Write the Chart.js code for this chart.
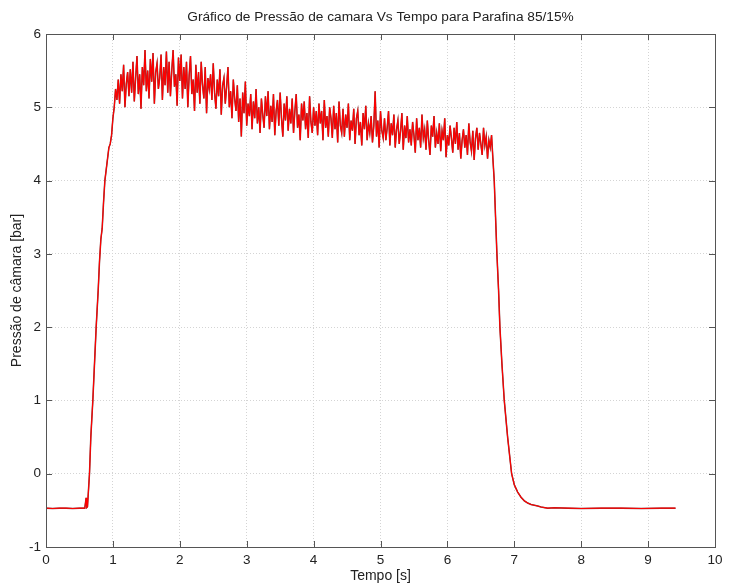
<!DOCTYPE html>
<html><head><meta charset="utf-8">
<script src="https://cdn.jsdelivr.net/npm/chart.js@4"></script>
<style>html,body{margin:0;padding:0;background:#fff}#wrap{width:729px;height:585px}</style>
</head><body><div id="wrap"><canvas id="c" width="729" height="585"></canvas></div>
<script>
const titleText = "Gráfico de Pressão de camara Vs Tempo para Parafina 85/15%";
const xTitle = "Tempo [s]";
const yTitle = "Pressão de câmara [bar]";
const xTicks = [0,1,2,3,4,5,6,7,8,9,10];
const yTicks = [-1,0,1,2,3,4,5,6];

// ignition / rise segment
const riseTime = [0,0.1,0.2,0.3,0.4,0.5,0.58,0.60,0.61,0.62,0.65,0.67,0.70,0.72,0.75,0.78,0.80,0.82,0.84,0.86,0.88,0.90,0.92,0.94,0.96,0.98,1.00,1.02,1.04];
const risePressure = [-0.47,-0.475,-0.47,-0.47,-0.475,-0.47,-0.47,-0.33,-0.46,-0.45,0.0,0.5,1.0,1.4,2.0,2.5,2.9,3.2,3.35,3.7,4.0,4.15,4.3,4.45,4.5,4.62,4.85,5.0,5.25];

// burning plateau, sampled every 0.02 s from 1.06 s
const plateauStart = 1.06, plateauStep = 0.02;
const plateauPressure = [
5.10,5.38,5.05,5.45,5.22,5.58,5.00,5.32,5.48,5.15,
5.52,5.20,5.62,5.08,5.40,5.70,5.18,5.45,4.98,5.55,
5.30,5.78,5.22,5.50,5.12,5.66,5.35,5.74,5.05,5.48,
5.60,5.25,5.40,5.72,5.10,5.55,5.30,5.76,5.20,5.62,
5.15,5.50,5.78,5.28,5.45,5.02,5.68,5.36,5.72,5.12,
5.55,5.25,5.62,5.00,5.44,5.70,5.18,5.38,4.95,5.58,
5.20,5.48,5.05,5.62,5.30,5.12,5.55,4.92,5.40,5.25,
5.45,5.10,5.60,5.20,4.98,5.38,5.15,5.52,4.90,5.30,
5.40,5.05,5.28,5.55,5.00,5.22,4.85,5.38,5.12,4.95,
5.30,4.80,5.12,4.60,5.20,4.92,5.35,4.75,5.05,4.88,
5.18,4.70,5.08,4.85,5.25,4.78,5.00,4.65,5.12,4.90,
4.72,5.15,4.88,5.22,4.70,5.02,4.80,5.18,4.62,4.95,
5.10,4.75,5.20,4.85,4.60,5.05,4.82,5.15,4.68,4.98,
4.78,5.12,4.65,4.95,5.18,4.72,4.90,4.55,5.05,4.82,
5.08,4.70,4.92,4.58,5.15,4.80,4.65,5.00,4.75,4.95,
4.62,5.05,4.78,4.95,4.55,5.10,4.72,4.88,4.60,5.00,
4.85,4.58,5.02,4.70,4.92,4.52,5.08,4.75,4.65,4.98,
4.60,4.90,4.72,5.05,4.55,4.82,4.68,4.98,4.50,4.85,
4.95,4.62,4.80,4.48,4.92,4.70,5.02,4.55,4.78,4.65,
4.88,4.52,4.75,5.22,4.60,4.82,4.45,4.95,4.68,4.58,
4.85,4.55,4.72,4.95,4.48,4.78,4.62,4.90,4.45,4.70,
4.82,4.50,4.68,4.92,4.42,4.75,4.58,4.88,4.52,4.70,
4.48,4.80,4.62,4.38,4.85,4.55,4.72,4.45,4.90,4.58,
4.70,4.42,4.82,4.55,4.35,4.75,4.60,4.88,4.45,4.65,
4.50,4.78,4.40,4.68,4.55,4.85,4.32,4.62,4.48,4.75,
4.58,4.38,4.72,4.50,4.80,4.42,4.65,4.30,4.55,4.70,
4.45,4.62,4.35,4.78,4.52,4.40,4.68,4.28,4.58,4.72,
4.42,4.65,4.50,4.35,4.72,4.48,4.60,4.30,4.55,4.45,
4.62];

// tail-off segment
const fallTime = [6.68,6.70,6.72,6.74,6.765,6.785,6.815,6.85,6.90,6.96,7.00,7.05,7.10,7.15,7.20,7.25,7.30,7.35,7.40,7.50,7.60,7.80,8.00,8.30,8.60,8.90,9.20,9.41];
const fallPressure = [4.30,4.00,3.50,3.00,2.50,2.00,1.50,1.00,0.50,0.00,-0.15,-0.25,-0.32,-0.37,-0.40,-0.42,-0.43,-0.44,-0.455,-0.47,-0.465,-0.47,-0.475,-0.47,-0.47,-0.475,-0.47,-0.47];

const points = [];
riseTime.forEach((t,i)=>points.push({x:t,y:risePressure[i]}));
plateauPressure.forEach((p,i)=>points.push({x:+(plateauStart+i*plateauStep).toFixed(3),y:p}));
fallTime.forEach((t,i)=>points.push({x:t,y:fallPressure[i]}));

const FONT = "'Liberation Sans', Arial, Helvetica, sans-serif";

const boxPlugin = {
  id:'box',
  afterDraw(chart){
    const {ctx, chartArea:a, scales:{x,y}} = chart;
    ctx.save();
    ctx.strokeStyle = '#555';
    ctx.lineWidth = 1;
    ctx.strokeRect(Math.round(a.left)+0.5, Math.round(a.top)+0.5, Math.round(a.right-a.left), Math.round(a.bottom-a.top));
    ctx.beginPath();
    x.ticks.forEach(t=>{
      const px = Math.round(x.getPixelForValue(t.value))+0.5;
      ctx.moveTo(px,a.bottom); ctx.lineTo(px,a.bottom-6);
      ctx.moveTo(px,a.top); ctx.lineTo(px,a.top+6);
    });
    y.ticks.forEach(t=>{
      const py = Math.round(y.getPixelForValue(t.value))+0.5;
      ctx.moveTo(a.left,py); ctx.lineTo(a.left+6,py);
      ctx.moveTo(a.right,py); ctx.lineTo(a.right-6,py);
    });
    ctx.stroke();
    // title centred over the plot area
    ctx.fillStyle = '#222';
    ctx.font = "13.7px " + FONT;
    ctx.textAlign = 'center';
    ctx.textBaseline = 'middle';
    ctx.fillText(titleText, (a.left + a.right)/2, 17);
    ctx.restore();
  }
};

new Chart(document.getElementById('c'), {
  type:'line',
  data:{datasets:[
    {data:points, borderColor:'rgba(70,0,0,0.75)', borderWidth:1.5, pointRadius:0, tension:0, order:2},
    {data:points, borderColor:'#ff0000', borderWidth:1.15, pointRadius:0, tension:0, order:1}
  ]},
  options:{
    responsive:false, animation:false,
    layout:{padding:{left:0,right:14,top:34,bottom:0}},
    plugins:{legend:{display:false}, tooltip:{enabled:false}, title:{display:false}},
    scales:{
      x:{type:'linear', min:0, max:10,
        afterBuildTicks:s=>{s.ticks = xTicks.map(v=>({value:v}));},
        ticks:{color:'#222', font:{family:FONT,size:13.5}, padding:5, maxRotation:0, autoSkip:false},
        grid:{color:'#d4d4d4', drawTicks:false, lineWidth:1},
        border:{display:false, dash:[1,2]},
        title:{display:true, text:xTitle, color:'#222', font:{family:FONT,size:14}, padding:{top:0,bottom:0}},
        afterFit:s=>{s.height = 38;}
      },
      y:{type:'linear', min:-1, max:6,
        afterBuildTicks:s=>{s.ticks = yTicks.map(v=>({value:v}));},
        ticks:{color:'#222', font:{family:FONT,size:13.5}, padding:5, autoSkip:false},
        grid:{color:'#d4d4d4', drawTicks:false, lineWidth:1},
        border:{display:false, dash:[1,2]},
        title:{display:true, text:yTitle, color:'#222', font:{family:FONT,size:14}, padding:{top:9,bottom:0}},
        afterFit:s=>{s.width = 46;}
      }
    }
  },
  plugins:[boxPlugin]
});
</script>
</body></html>
